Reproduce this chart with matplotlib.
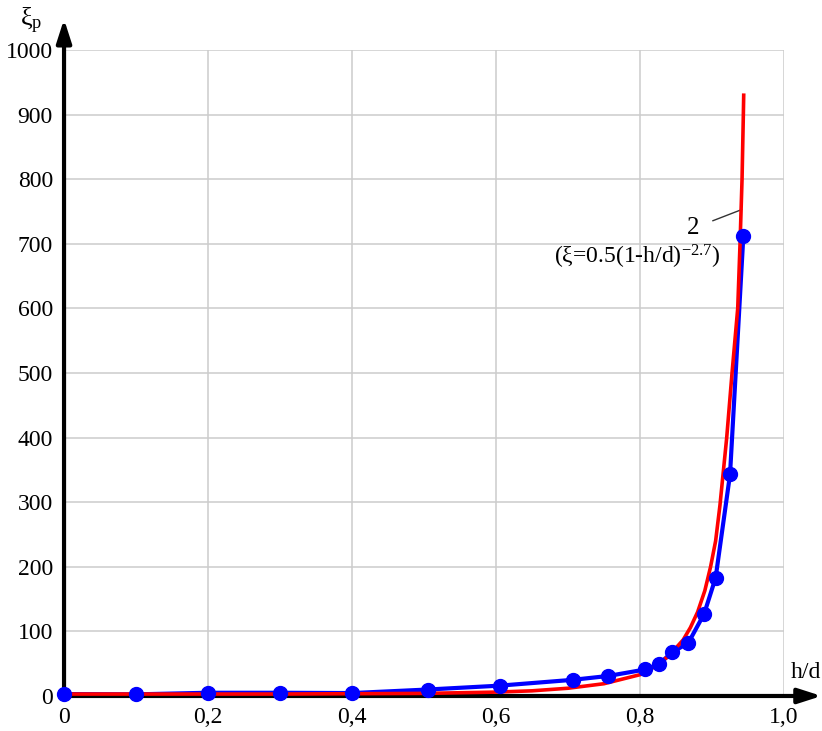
import matplotlib.pyplot as plt
from matplotlib.ticker import MultipleLocator

plt.rcParams['font.family'] = ['Liberation Serif', 'DejaVu Serif']
plt.rcParams['mathtext.fontset'] = 'custom'
plt.rcParams['mathtext.rm'] = 'Liberation Serif'
plt.rcParams['mathtext.it'] = 'Liberation Serif:italic'

# measured points (curve 1)
hd_meas = [0.0, 0.1, 0.2, 0.3, 0.4, 0.505, 0.605, 0.7065, 0.756, 0.807,
           0.826, 0.845, 0.867, 0.889, 0.905, 0.925, 0.9435]
xi_meas = [3, 2.5, 5, 5, 4.5, 10, 16, 25, 31, 41,
           49, 68, 82, 127, 183, 343, 712]

# approximation curve 2
hd_fit = [0.0, 0.1, 0.2, 0.3, 0.4, 0.5, 0.6, 0.65, 0.7, 0.75, 0.8,
          0.82, 0.84, 0.86, 0.87, 0.88, 0.89, 0.898, 0.905, 0.911,
          0.9204, 0.9278, 0.9357, 0.9389, 0.9417, 0.9435, 0.944]
xi_fit = [3, 3, 3, 3, 3.5, 4, 6, 8, 12, 19, 33,
          45, 62, 87, 106, 130, 163, 200, 240, 295,
          400, 500, 600, 700, 800, 900, 930]

x_ticks = [0, 0.2, 0.4, 0.6, 0.8, 1.0]
x_labels = ['0', '0,2', '0,4', '0,6', '0,8', '1,0']

fig = plt.figure(figsize=(8.22, 7.31), dpi=100)
ax = fig.add_axes([0.0779, 0.0479, 0.8759, 0.8837])

ax.plot(hd_meas, xi_meas, color='#0000ff', lw=3, zorder=3)
ax.plot(hd_fit, xi_fit, color='#ff0000', lw=2.6, zorder=4)
ax.plot(hd_meas, xi_meas, 'o', color='#0000ff', ms=10, zorder=5, clip_on=False)

ax.set_xlim(0, 1.0)
ax.set_ylim(0, 1000)
ax.set_xticks(x_ticks)
ax.set_xticklabels(x_labels)
ax.yaxis.set_major_locator(MultipleLocator(100))
ax.tick_params(axis='both', length=0, labelsize=17, pad=8)
ax.grid(True, color='#cccccc', lw=1.1)
for s in ax.spines.values():
    s.set_visible(False)

# axis arrows
arrow = dict(arrowstyle='-|>,head_length=1.4,head_width=0.45', color='black', lw=3)
ax.annotate('', xy=(0, 1.052), xytext=(0, -0.004), xycoords='axes fraction',
            arrowprops=arrow, annotation_clip=False)
ax.annotate('', xy=(1.056, 0), xytext=(-0.003, 0), xycoords='axes fraction',
            arrowprops=arrow, annotation_clip=False)

ax.text(-0.045, 1.045, r'ξ$_\mathrm{p}$', transform=ax.transAxes,
        fontsize=19, ha='center', va='center')
ax.text(1.03, 0.036, 'h/d', transform=ax.transAxes,
        fontsize=17, ha='center', va='center')

# curve label with leader line
ax.annotate('2', xy=(0.9413, 753), xytext=(0.874, 724), fontsize=18,
            ha='center', va='center',
            arrowprops=dict(arrowstyle='-', color='#333333', lw=1,
                            shrinkA=8, shrinkB=0))
ax.text(0.796, 680, r'(ξ=0.5(1-h/d)$^{\mathrm{-2.7}}$)', fontsize=17,
        ha='center', va='center')

fig.savefig('out.png', dpi=100)
